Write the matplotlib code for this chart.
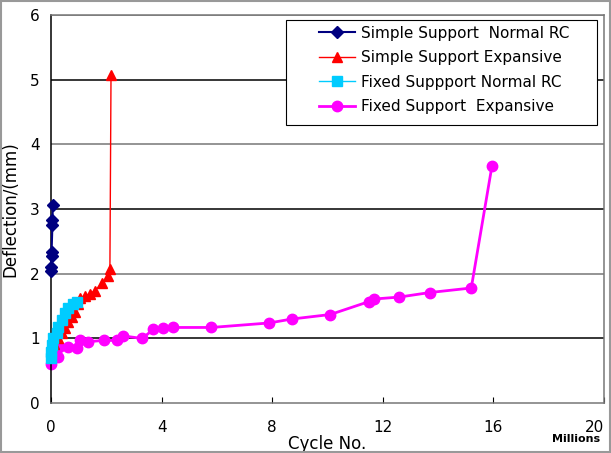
import matplotlib
matplotlib.use("Agg")
import matplotlib.pyplot as plt
from matplotlib.patches import Rectangle

# Simple Support Normal RC
ss_normal_x = [0.0, 0.0, 0.02, 0.02, 0.05, 0.05, 0.07]
ss_normal_y = [2.05, 2.10, 2.28, 2.33, 2.75, 2.83, 3.07]

# Simple Support Expansive
ss_exp_x = [0.0, 0.1, 0.26, 0.4, 0.5, 0.62, 0.76, 0.87, 0.98, 1.05, 1.23, 1.41,
            1.59, 1.83, 2.07, 2.13, 2.17]
ss_exp_y = [0.80, 0.92, 1.00, 1.08, 1.16, 1.25, 1.33, 1.41, 1.54, 1.62, 1.66, 1.69,
            1.74, 1.85, 1.97, 2.08, 5.07]

# Fixed Suppport Normal RC
fs_normal_x = [0.0, 0.0, 0.03, 0.07, 0.2, 0.26, 0.4, 0.5, 0.62, 0.8, 0.94]
fs_normal_y = [0.70, 0.79, 0.90, 1.00, 1.08, 1.17, 1.28, 1.39, 1.47, 1.53, 1.57]

# Fixed Support Expansive
fs_exp_x = [0.0, 0.03, 0.1, 0.27, 0.3, 0.62, 0.93, 1.05, 1.35, 1.9, 2.4, 2.6, 3.3,
            3.7, 4.05, 4.4, 5.8, 7.9, 8.7, 10.1, 11.5, 11.7, 12.6, 13.7, 15.2, 15.95]
fs_exp_y = [0.60, 0.70, 0.78, 0.72, 0.87, 0.87, 0.86, 0.97, 0.95, 0.97, 0.97, 1.04, 1.00,
            1.14, 1.16, 1.17, 1.17, 1.24, 1.30, 1.37, 1.57, 1.61, 1.64, 1.71, 1.78, 3.67]

labels = ["Simple Support  Normal RC", "Simple Support Expansive",
          "Fixed Suppport Normal RC", "Fixed Support  Expansive"]

x_ticks = [0, 4, 8, 12, 16, 20]
y_ticks = [0, 1, 2, 3, 4, 5, 6]

fig = plt.figure(figsize=(6.11, 4.53), dpi=100)
ax = fig.add_axes([0.0835, 0.110, 0.905, 0.857])

# horizontal grid lines, alternating black / grey like the original
for yv in y_ticks[1:]:
    ax.axhline(yv, color="black" if yv % 2 else "#777777", linewidth=1.1, zorder=0)

h_fe, = ax.plot(fs_exp_x, fs_exp_y, color="#ff00ff", linewidth=2, marker="o",
                markersize=7.5, label=labels[3], zorder=2, clip_on=False)
h_se, = ax.plot(ss_exp_x, ss_exp_y, color="red", linewidth=1, marker="^",
                markersize=7.5, label=labels[1], zorder=3, clip_on=False)
h_fn, = ax.plot(fs_normal_x, fs_normal_y, color="#00ccff", linewidth=1, marker="s",
                markersize=6.5, label=labels[2], zorder=4, clip_on=False)
h_sn, = ax.plot(ss_normal_x, ss_normal_y, color="#000080", linewidth=1.5, marker="D",
                markersize=6, label=labels[0], zorder=5, clip_on=False)

ax.set_xlim(0, 20)
ax.set_ylim(0, 6)
ax.set_xticks(x_ticks)
ax.set_yticks(y_ticks)
ax.tick_params(axis="x", direction="in", length=4, labelsize=11, pad=12)
ax.tick_params(axis="y", direction="out", length=0, labelsize=11, pad=8)
ax.get_xticklabels()[-1].set_horizontalalignment("right")
ax.spines["left"].set_color("black")
for side in ["top", "right", "bottom"]:
    ax.spines[side].set_color("#777777")
for side in ax.spines:
    ax.spines[side].set_linewidth(1.1)

ax.set_xlabel("Cycle No.", fontsize=12, labelpad=0)
ax.set_ylabel("Deflection/(mm)", fontsize=12, labelpad=8)
fig.text(0.982, 0.025, "Millions", fontsize=8, fontweight="bold", ha="right")

# legend box is wider than its content in the original, so draw the frame separately
ax.add_patch(Rectangle((0.425, 0.7165), 0.562, 0.2705, transform=ax.transAxes,
                       facecolor="white", edgecolor="black", linewidth=0.8,
                       zorder=6, clip_on=False))
leg = ax.legend([h_sn, h_se, h_fn, h_fe], labels,
                loc="upper left", bbox_to_anchor=(0.484, 0.972), borderaxespad=0,
                fontsize=11, frameon=False, handlelength=2.4, handletextpad=0.4,
                borderpad=0, labelspacing=0.62)
leg.set_zorder(7)

fig.patches.append(Rectangle((0.002, 0.002), 0.996, 0.996, transform=fig.transFigure,
                             fill=False, edgecolor="#999999", linewidth=1.5))

fig.savefig("out.png", dpi=100)
